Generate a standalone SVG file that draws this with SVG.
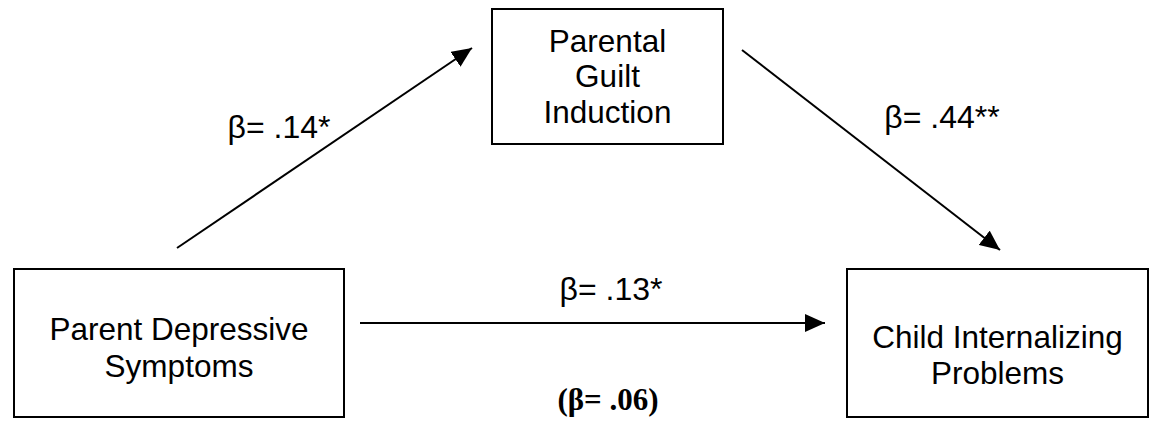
<svg xmlns="http://www.w3.org/2000/svg" width="1156" height="423" viewBox="0 0 1156 423">
<style>
.box{fill:#fff;stroke:#000;stroke-width:2}
.lbl{font-family:"Liberation Sans",Arial,sans-serif;font-size:31.5px;fill:#000;text-anchor:middle}
.el{font-family:"Liberation Sans",Arial,sans-serif;font-size:32px;fill:#000;text-anchor:middle}
.b{font-family:"Liberation Serif","Times New Roman",serif;font-size:31px;font-weight:bold;fill:#000;text-anchor:middle}
.edge{stroke:#000;stroke-width:2;fill:none;marker-end:url(#ah2)}
</style>
<defs>
<marker id="ah2" viewBox="0 0 20 18" refX="20" refY="9" markerWidth="20" markerHeight="18" markerUnits="userSpaceOnUse" orient="auto">
<path d="M0,0 L20,9 L0,18 z" fill="#000"/>
</marker>
</defs>
<g id="node-guilt">
<rect class="box" x="492" y="9" width="231" height="135"/>
<text class="lbl" x="607.5" y="52">Parental</text>
<text class="lbl" x="607.5" y="87">Guilt</text>
<text class="lbl" x="607.5" y="123">Induction</text>
</g>
<g id="node-parent">
<rect class="box" x="14" y="269" width="330" height="148"/>
<text class="lbl" x="179" y="340">Parent Depressive</text>
<text class="lbl" x="179" y="377">Symptoms</text>
</g>
<g id="node-child">
<rect class="box" x="847" y="269" width="301" height="148"/>
<text class="lbl" x="997.5" y="348">Child Internalizing</text>
<text class="lbl" x="997.5" y="384">Problems</text>
</g>
<g id="connectors">
<line class="edge" x1="177" y1="248" x2="472" y2="48"/>
<line class="edge" x1="742" y1="50" x2="1000" y2="250"/>
<line class="edge" x1="360" y1="323" x2="825" y2="323"/>
<text class="el" x="279" y="138">β= .14*</text>
<text class="el" x="942" y="128">β= .44**</text>
<text class="el" x="611" y="300">β= .13*</text>
<text class="b" x="608" y="410">(β= .06)</text>
</g>
</svg>
